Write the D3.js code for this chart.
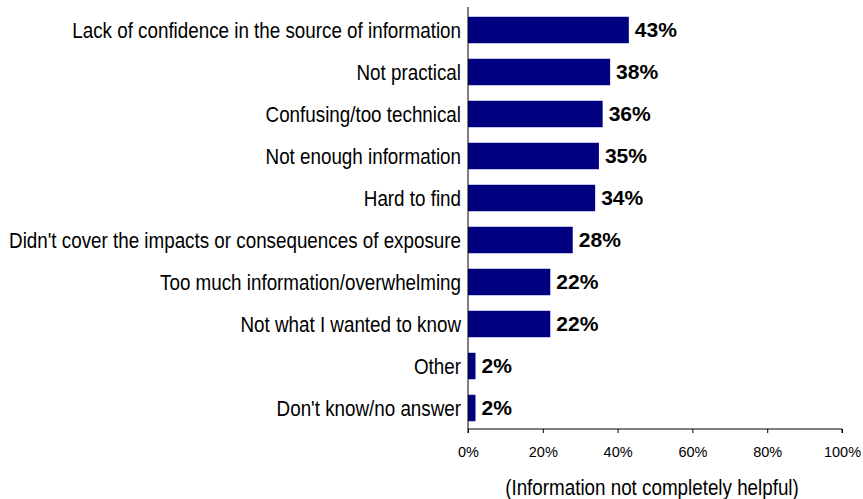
<!DOCTYPE html>
<html>
<head>
<meta charset="utf-8">
<script src="https://cdn.jsdelivr.net/npm/d3@7"></script>
<style>
  html, body { margin: 0; padding: 0; background: #fff; }
  svg { display: block; }
</style>
</head>
<body>
<svg id="chart" width="863" height="499"></svg>
<script>
// Reasons the information was not completely helpful
const categories = [
  "Lack of confidence in the source of information",
  "Not practical",
  "Confusing/too technical",
  "Not enough information",
  "Hard to find",
  "Didn't cover the impacts or consequences of exposure",
  "Too much information/overwhelming",
  "Not what I wanted to know",
  "Other",
  "Don't know/no answer"
];
const values = [43, 38, 36, 35, 34, 28, 22, 22, 2, 2];
const xTicks = [0, 20, 40, 60, 80, 100];
const axisTitle = "(Information not completely helpful)";

const font = "'Liberation Sans', Arial, sans-serif";
const condense = 0.875; // horizontal squeeze for the narrow label face

const svg = d3.select("#chart");
const plotLeft = 468, plotRight = 842, plotTop = 9, plotBottom = 429;

const x = d3.scaleLinear().domain([0, 100]).range([plotLeft, plotRight]);
const y = d3.scaleBand().domain(categories).range([plotTop, plotBottom])
  .paddingInner(0.37).paddingOuter(0.185);

// bars
svg.append("g").selectAll("rect")
  .data(categories)
  .join("rect")
  .attr("x", x(0))
  .attr("y", d => y(d))
  .attr("width", (d, i) => x(values[i]) - x(0))
  .attr("height", y.bandwidth())
  .attr("fill", "#000080");

// value labels
svg.append("g").selectAll("text")
  .data(categories)
  .join("text")
  .attr("transform", (d, i) =>
    `translate(${x(values[i]) + 6},${y(d) + y.bandwidth() / 2}) scale(1.08,1)`)
  .attr("dy", "0.36em")
  .attr("font-family", font)
  .attr("font-weight", "bold")
  .attr("font-size", 19.5)
  .attr("fill", "#000")
  .text((d, i) => values[i] + "%");

// category axis
const yAxis = svg.append("g")
  .attr("transform", `translate(${plotLeft},0)`)
  .call(d3.axisLeft(y).tickSize(0).tickPadding(7));
yAxis.select(".domain").attr("d", `M0,${plotTop - 2}V${plotBottom}`).attr("stroke", "#000");
yAxis.selectAll("text")
  .attr("transform", `scale(${condense},1)`)
  .attr("x", -7 / condense)
  .attr("dy", "0.37em")
  .attr("font-family", font)
  .attr("font-size", 21.5)
  .attr("fill", "#000");

// value axis
const xAxis = svg.append("g")
  .attr("transform", `translate(0,${plotBottom})`)
  .call(d3.axisBottom(x).tickValues(xTicks).tickSize(4).tickPadding(14)
    .tickFormat(d => d + "%"));
xAxis.select(".domain").attr("d", `M${plotLeft},4V0H${plotRight}V4`).attr("stroke", "#000");
xAxis.selectAll(".tick line").attr("stroke", "#000");
xAxis.selectAll("text")
  .attr("font-family", font)
  .attr("font-size", 14.5)
  .attr("fill", "#000");

// axis title
svg.append("text")
  .attr("transform", `translate(${(plotLeft + plotRight) / 2 - 3},495) scale(${condense},1)`)
  .attr("text-anchor", "middle")
  .attr("font-family", font)
  .attr("font-size", 21.5)
  .attr("fill", "#000")
  .text(axisTitle);
</script>
</body>
</html>
